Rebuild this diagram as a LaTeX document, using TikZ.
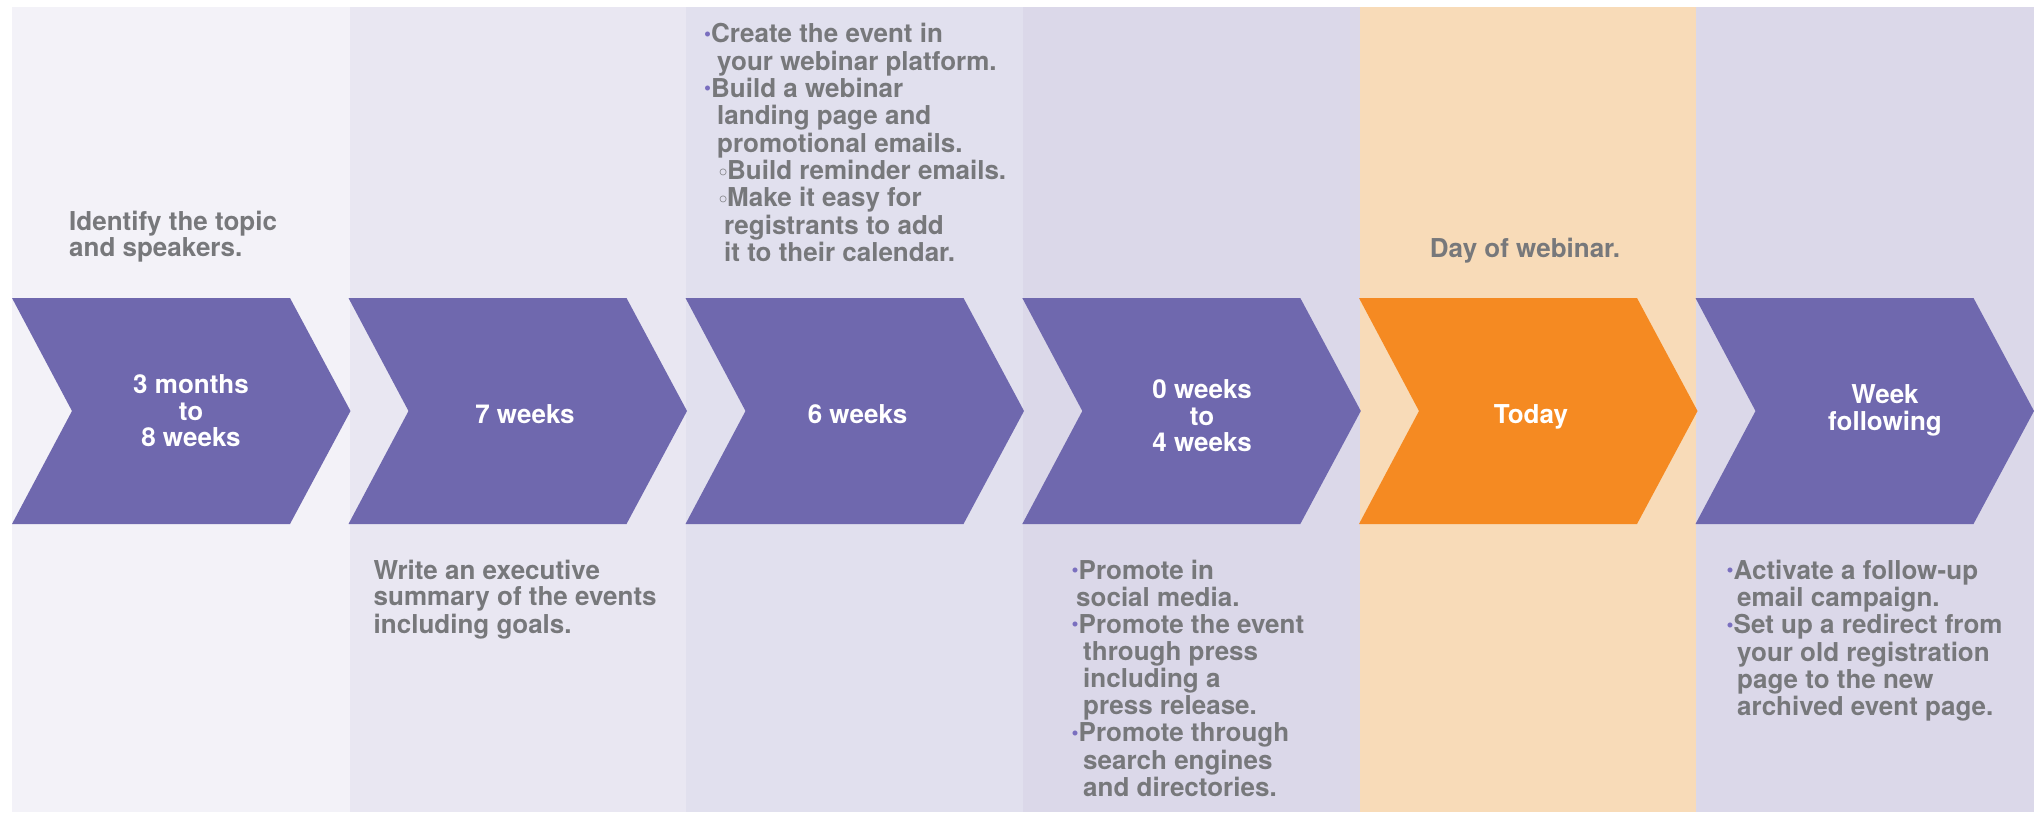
\documentclass[tikz,border=0pt]{standalone}
\usepackage{fontspec}
\setmainfont{TeX Gyre Heros}
\newfontfamily\symfont{DejaVu Sans}
\definecolor{colA}{HTML}{F3F2F8}
\definecolor{colB}{HTML}{E9E7F2}
\definecolor{colC}{HTML}{E1E0EE}
\definecolor{colD}{HTML}{DBD8E9}
\definecolor{colE}{HTML}{F8DBB8}
\definecolor{chevP}{HTML}{6F68AE}
\definecolor{chevO}{HTML}{F58A22}
\definecolor{txtgray}{HTML}{77787B}
\definecolor{bpurple}{HTML}{7A6FBF}
\newcommand{\pb}{\makebox[7pt][l]{\textcolor{bpurple}{\raisebox{2.5pt}{\fontsize{20}{20}\selectfont\textbullet}}}}
\newcommand{\sbul}{\makebox[10pt][l]{\raisebox{0.5pt}{\symfont\fontsize{19}{19}\selectfont ◦}}}
\begin{document}
\begin{tikzpicture}[x=1pt,y=-1pt,
  txt/.style={inner sep=0pt, font=\fontsize{26}{26.7}\selectfont\bfseries, text=txtgray},
  chevtxt/.style={inner sep=0pt, font=\fontsize{26}{26.7}\selectfont\bfseries, text=white, anchor=base},
  chevron/.style={fill=#1}]
\useasboundingbox (0,0) rectangle (2038,812);
% columns
\fill[colA] (11.7,6.5) rectangle (349.6,812);
\fill[colB] (349.6,6.5) rectangle (686.2,812);
\fill[colC] (686.2,6.5) rectangle (1022.9,812);
\fill[colD] (1022.9,6.5) rectangle (1359.5,812);
\fill[colE] (1359.5,6.5) rectangle (1696.1,812);
\fill[colD] (1696.1,6.5) rectangle (2034,812);
% chevrons
\foreach \L/\c in {12/chevP, 348.5/chevP, 685.5/chevP, 1022.3/chevP, 1359/chevO, 1695.5/chevP}{
  \fill[chevron=\c] (\L,298) -- (\L+278,298) -- (\L+338.5,411) -- (\L+278,524) -- (\L,524) -- (\L+60,411) -- cycle;
}
% chevron labels
\node[chevtxt] (c1) at (191,393.3) {\begin{tabular}[t]{@{}c@{}}3 months\\to\\8 weeks\end{tabular}};
\node[chevtxt] (c2) at (525,423.3) {7 weeks};
\node[chevtxt] (c3) at (857.5,423.3) {6 weeks};
\node[chevtxt] (c4) at (1202,398.3) {\begin{tabular}[t]{@{}c@{}}0 weeks\\to\\4 weeks\end{tabular}};
\node[chevtxt] (c5) at (1531,423.3) {Today};
\node[chevtxt] (c6) at (1885,403.3) {\begin{tabular}[t]{@{}c@{}}Week\\following\end{tabular}};
% top texts
\node[txt, anchor=base west] (t1) at (69,230) {\begin{tabular}[t]{@{}l@{}}Identify the topic\\and speakers.\end{tabular}};
\node[txt, anchor=base west] (t3) at (704,42.7) {\begin{tabular}[t]{@{}l@{}}%
\pb Create the event in\\
\hspace*{13pt}your webinar platform.\\
\pb Build a webinar\\
\hspace*{13pt}landing page and\\
\hspace*{13pt}promotional emails.\\
\hspace*{13pt}\sbul Build reminder emails.\\
\hspace*{13pt}\sbul Make it easy for\\
\hspace*{20pt}registrants to add\\
\hspace*{20pt}it to their calendar.\end{tabular}};
\node[txt, anchor=base] (t5) at (1525,257) {Day of webinar.};
% bottom texts
\node[txt, anchor=base west] (b2) at (373.5,579) {\begin{tabular}[t]{@{}l@{}}Write an executive\\summary of the events\\including goals.\end{tabular}};
\node[txt, anchor=base west] (b4) at (1071.5,579) {\begin{tabular}[t]{@{}l@{}}%
\pb Promote in\\
\hspace*{4.5pt}social media.\\
\pb Promote the event\\
\hspace*{11.5pt}through press\\
\hspace*{11.5pt}including a\\
\hspace*{11.5pt}press release.\\
\pb Promote through\\
\hspace*{11.5pt}search engines\\
\hspace*{11.5pt}and directories.\end{tabular}};
\node[txt, anchor=base west] (b6) at (1726.5,579) {\begin{tabular}[t]{@{}l@{}}%
\pb Activate a follow-up\\
\hspace*{10.5pt}email campaign.\\
\pb Set up a redirect from\\
\hspace*{10.5pt}your old registration\\
\hspace*{10.5pt}page to the new\\
\hspace*{10.5pt}archived event page.\end{tabular}};
\end{tikzpicture}
\end{document}
